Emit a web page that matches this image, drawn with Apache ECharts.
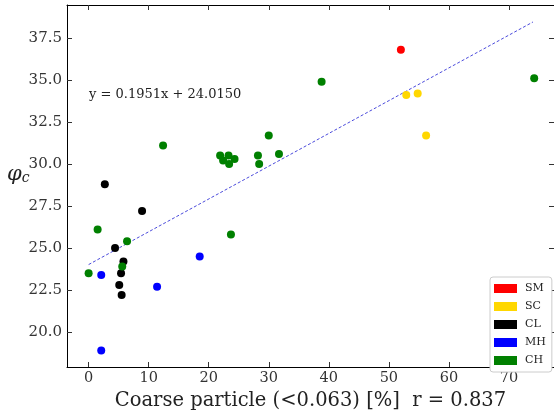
<!DOCTYPE html>
<html>
<head>
<meta charset="utf-8">
<script src="https://cdn.jsdelivr.net/npm/echarts@6/dist/echarts.min.js"></script>
<style>
html, body { margin: 0; padding: 0; background: #fff; }
#chart { width: 554px; height: 419px; }
</style>
</head>
<body>
<div id="chart"></div>
<script>
// values: [coarse particle %, phi_c]
var smPoints = [[52.0, 36.8]];
var scPoints = [[52.9, 34.1], [54.8, 34.2], [56.2, 31.7]];
var clPoints = [[2.7, 28.8], [8.9, 27.2], [4.4, 25.0], [5.8, 24.2], [5.4, 23.5], [5.1, 22.8], [5.5, 22.2]];
var mhPoints = [[2.1, 23.4], [11.4, 22.7], [18.5, 24.5], [2.1, 18.9]];
var chPoints = [[12.4, 31.1], [21.9, 30.5], [22.4, 30.2], [23.3, 30.5], [23.4, 30.0], [24.3, 30.3],
    [28.2, 30.5], [28.4, 30.0], [30.0, 31.7], [31.7, 30.6], [38.8, 34.9], [74.2, 35.1],
    [1.5, 26.1], [6.4, 25.4], [5.6, 23.9], [0.0, 23.5], [23.7, 25.8]];
var fitLine = [[0, 24.015], [74, 38.45]];
var xTicks = [0, 10, 20, 30, 40, 50, 60, 70];
var yTicks = [20, 22.5, 25, 27.5, 30, 32.5, 35, 37.5];
var equationText = 'y = 0.1951x + 24.0150';
var xTitle = 'Coarse particle (<0.063) [%]  r = 0.837';

var serif = 'DejaVu Serif';
var myChart = echarts.init(document.getElementById('chart'));

function pointSeries(name, data, color) {
    return {
        name: name,
        type: 'scatter',
        data: data,
        symbolSize: 8,
        itemStyle: { color: color, opacity: 1 },
        z: 3
    };
}

var option = {
    animation: false,
    backgroundColor: '#fff',
    grid: { left: 67, right: 0, top: 5, bottom: 52 },
    legend: {
        orient: 'vertical',
        left: 490,
        top: 277,
        padding: [6, 6, 6, 4],
        itemWidth: 23,
        itemHeight: 9,
        itemGap: 7,
        icon: 'rect',
        backgroundColor: '#fff',
        borderColor: '#cccccc',
        borderWidth: 1,
        borderRadius: 3,
        textStyle: { fontFamily: serif, fontSize: 11, color: '#222', padding: [0, 0, 0, 3] },
        data: ['SM', 'SC', 'CL', 'MH', 'CH']
    },
    xAxis: [{
        type: 'value',
        min: -3.6,
        max: 77.5,
        position: 'bottom',
        name: xTitle,
        nameLocation: 'middle',
        nameGap: 24,
        nameTextStyle: { fontFamily: serif, fontSize: 19.5, color: '#222' },
        axisLine: { onZero: false, lineStyle: { color: '#000', width: 1 } },
        axisTick: { show: true, inside: true, length: 5, customValues: xTicks, lineStyle: { color: '#333' } },
        axisLabel: { customValues: xTicks, fontFamily: serif, fontSize: 14.5, color: '#333', margin: 4 },
        splitLine: { show: false }
    }, {
        type: 'value',
        min: -3.6,
        max: 77.5,
        position: 'top',
        axisLine: { onZero: false, lineStyle: { color: '#000', width: 1 } },
        axisTick: { show: true, inside: true, length: 5, customValues: xTicks, lineStyle: { color: '#333' } },
        axisLabel: { show: false },
        splitLine: { show: false }
    }],
    yAxis: [{
        type: 'value',
        min: 17.92,
        max: 39.46,
        position: 'left',
        axisLine: { show: true, onZero: false, lineStyle: { color: '#000', width: 1 } },
        axisTick: { show: true, inside: true, length: 5, customValues: yTicks, lineStyle: { color: '#333' } },
        axisLabel: {
            customValues: yTicks,
            fontFamily: serif, fontSize: 15, color: '#333', margin: 5,
            formatter: function (v) { return v.toFixed(1); }
        },
        splitLine: { show: false }
    }, {
        type: 'value',
        min: 17.92,
        max: 39.46,
        position: 'right',
        axisLine: { show: false, onZero: false },
        axisTick: { show: true, inside: true, length: 5, customValues: yTicks, lineStyle: { color: '#333' } },
        axisLabel: { show: false },
        splitLine: { show: false }
    }],
    graphic: [{
        type: 'text',
        left: 89,
        top: 88,
        style: { text: equationText, font: '13px "DejaVu Serif"', fill: '#222' }
    }, {
        type: 'text',
        left: 7,
        top: 164,
        style: {
            text: '{a|\u03c6}{b|c}',
            rich: {
                a: { fontFamily: serif, fontStyle: 'italic', fontSize: 21, fill: '#222', color: '#222' },
                b: { fontFamily: serif, fontStyle: 'italic', fontSize: 14, fill: '#222', color: '#222', padding: [8, 0, 0, 0] }
            }
        }
    }],
    series: [
        {
            name: 'fit',
            type: 'line',
            data: fitLine,
            symbol: 'none',
            lineStyle: { color: '#4b4bdc', width: 1, type: [3, 2] },
            z: 2
        },
        pointSeries('SM', smPoints, '#ff0000'),
        pointSeries('SC', scPoints, '#ffd700'),
        pointSeries('CL', clPoints, '#000000'),
        pointSeries('MH', mhPoints, '#0000ff'),
        pointSeries('CH', chPoints, '#008000')
    ]
};
myChart.setOption(option);
</script>
</body>
</html>
